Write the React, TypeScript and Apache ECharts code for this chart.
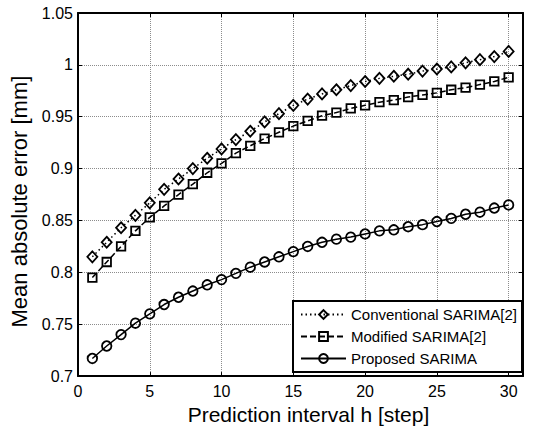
import { useEffect, useRef } from 'react';
import * as echarts from 'echarts';

const FONT = '"Liberation Sans", Arial, Helvetica, sans-serif';

const hSteps = [1, 2, 3, 4, 5, 6, 7, 8, 9, 10, 11, 12, 13, 14, 15, 16, 17, 18, 19, 20, 21, 22, 23, 24, 25, 26, 27, 28, 29, 30];
const conventional = [0.815, 0.829, 0.843, 0.855, 0.867, 0.880, 0.890, 0.900, 0.910, 0.919, 0.928, 0.936, 0.945, 0.953, 0.961, 0.967, 0.972, 0.976, 0.980, 0.984, 0.987, 0.989, 0.991, 0.994, 0.996, 0.998, 1.002, 1.005, 1.008, 1.013];
const modified = [0.795, 0.810, 0.825, 0.840, 0.853, 0.864, 0.875, 0.885, 0.896, 0.905, 0.915, 0.922, 0.929, 0.935, 0.941, 0.946, 0.951, 0.954, 0.958, 0.961, 0.964, 0.966, 0.969, 0.971, 0.973, 0.976, 0.978, 0.981, 0.984, 0.988];
const proposed = [0.717, 0.729, 0.740, 0.751, 0.760, 0.769, 0.776, 0.782, 0.788, 0.793, 0.799, 0.805, 0.810, 0.815, 0.820, 0.825, 0.829, 0.832, 0.834, 0.837, 0.840, 0.841, 0.844, 0.846, 0.849, 0.852, 0.856, 0.858, 0.862, 0.865];
const seriesNames = ['Conventional SARIMA[2]', 'Modified SARIMA[2]', 'Proposed SARIMA'];
const xTitle = 'Prediction interval h [step]';
const yTitle = 'Mean absolute error [mm]';

export default function App() {
  const ref = useRef<HTMLDivElement>(null);
  useEffect(() => {
    document.body.style.margin = '0';
    const chart = echarts.init(ref.current!, null, { renderer: 'svg' });
    const pairs = (vals: number[]) => hSteps.map((h, i) => [h, vals[i]]);
    const axisLine = { show: true, onZero: false, lineStyle: { color: '#000', width: 2 } };
    const axisTick = { show: true, inside: true, length: 4, lineStyle: { color: '#000', width: 1 } };
    const splitLine = { show: true, lineStyle: { color: '#8c8c8c', width: 1, type: [1, 1] as any } };
    const xBase = { type: 'value' as const, min: 0, max: 31, interval: 5 };
    const yBase = { type: 'value' as const, min: 0.7, max: 1.05, interval: 0.05 };
    const mk = (name: string, vals: number[], symbol: string, size: any, lineType: any) => ({
      name,
      type: 'line' as const,
      data: pairs(vals),
      symbol,
      symbolSize: size,
      showSymbol: true,
      lineStyle: { color: '#000', width: 1.5, type: lineType },
      itemStyle: { color: 'rgba(0,0,0,0)', borderColor: '#000', borderWidth: 1.8 },
      z: 2,
    });
    chart.setOption({
      animation: false,
      backgroundColor: '#fff',
      textStyle: { fontFamily: FONT },
      grid: { left: 78, right: 25, top: 13, bottom: 50, containLabel: false },
      xAxis: [
        {
          ...xBase,
          position: 'bottom',
          name: xTitle,
          nameLocation: 'middle',
          nameGap: 25,
          nameTextStyle: { fontSize: 21, color: '#000', fontFamily: FONT, padding: [0, 0, 0, 16] },
          axisLine,
          axisTick,
          splitLine,
          axisLabel: {
            color: '#000',
            fontSize: 16,
            fontFamily: FONT,
            margin: 7,
            formatter: (v: number) => (Math.abs(v % 5) < 1e-9 ? String(v) : ''),
          },
        },
        {
          ...xBase,
          position: 'top',
          axisLine,
          axisTick,
          splitLine: { show: false },
          axisLabel: { show: false },
        },
      ],
      yAxis: [
        {
          ...yBase,
          position: 'left',
          name: yTitle,
          nameLocation: 'middle',
          nameGap: 42,
          nameTextStyle: { fontSize: 22, color: '#000', fontFamily: FONT, padding: [0, 14, 0, 0] },
          axisLine,
          axisTick,
          splitLine,
          axisLabel: {
            color: '#000',
            fontSize: 16,
            fontFamily: FONT,
            margin: 5,
            formatter: (v: number) => String(+v.toFixed(2)),
          },
        },
        {
          ...yBase,
          position: 'right',
          axisLine,
          axisTick,
          splitLine: { show: false },
          axisLabel: { show: false },
        },
      ],
      legend: {
        orient: 'vertical',
        left: 300,
        top: 307,
        padding: 0,
        itemWidth: 45,
        itemHeight: 11,
        itemGap: 7,
        data: seriesNames,
        textStyle: { fontSize: 15, color: '#000', fontFamily: FONT },
      },
      graphic: [
        {
          type: 'rect',
          z: 3,
          shape: { x: 293, y: 301, width: 229, height: 71 },
          style: { fill: '#fff', stroke: '#000', lineWidth: 2 },
        },
      ],
      series: [
        mk(seriesNames[0], conventional, 'diamond', [10, 11], [1.5, 3]),
        mk(seriesNames[1], modified, 'rect', 8.5, [6, 3]),
        mk(seriesNames[2], proposed, 'circle', 9.5, 'solid'),
      ],
    });
    return () => chart.dispose();
  }, []);
  return <div ref={ref} style={{ position: 'absolute', left: 0, top: 0, width: 548, height: 430 }} />;
}
